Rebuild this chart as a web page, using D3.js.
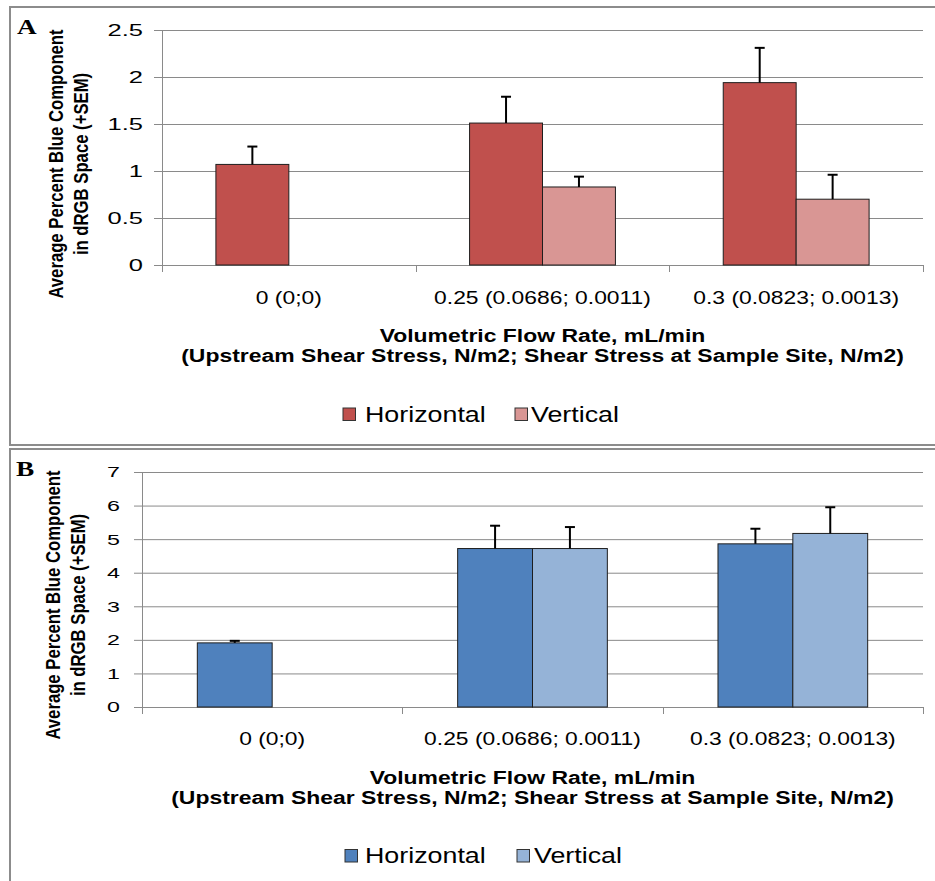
<!DOCTYPE html>
<html>
<head>
<meta charset="utf-8">
<script src="https://cdn.jsdelivr.net/npm/d3@7"></script>
<style>
  body { margin: 0; background: #fff; }
  svg { display: block; }
  text { font-family: "Liberation Sans", Arial, sans-serif; fill: #000; }
</style>
</head>
<body>
<script>
// data
const categories = ['0 (0;0)', '0.25 (0.0686; 0.0011)', '0.3 (0.0823; 0.0013)'];
const seriesNames = ['Horizontal', 'Vertical'];

const aHorizontal = [1.07, 1.51, 1.94];
const aHorizontalSem = [0.19, 0.28, 0.37];
const aVertical = [null, 0.83, 0.70];
const aVerticalSem = [null, 0.11, 0.26];

const bHorizontal = [1.91, 4.72, 4.86];
const bHorizontalSem = [0.06, 0.68, 0.45];
const bVertical = [null, 4.72, 5.17];
const bVerticalSem = [null, 0.64, 0.78];

const aTicks = [0, 0.5, 1, 1.5, 2, 2.5];
const bTicks = [0, 1, 2, 3, 4, 5, 6, 7];

const yTitle = ['Average Percent Blue Component', 'in dRGB Space (+SEM)'];
const xTitle = ['Volumetric Flow Rate, mL/min', '(Upstream Shear Stress, N/m2; Shear Stress at Sample Site, N/m2)'];

const width = 935, height = 881;
const frameColor = '#8c8c8c';
const gridColor = '#8a8a8a';

const svg = d3.select('body').append('svg')
  .attr('width', width)
  .attr('height', height)
  .style('background', '#fff');

// the picture is stretched sideways, so text is too
function stretch(sel, sx) {
  sel.each(function() {
    const t = d3.select(this);
    const x = +t.attr('x') || 0, y = +t.attr('y') || 0;
    t.attr('x', null).attr('y', null)
      .attr('transform', `translate(${x},${y}) scale(${sx},1)`);
  });
}

function drawPanel(p) {
  const g = svg.append('g');

  g.append('rect')
    .attr('x', 10).attr('y', p.frameTop)
    .attr('width', 1000).attr('height', p.frameH)
    .attr('fill', 'none')
    .attr('stroke', frameColor)
    .attr('stroke-width', 2);

  const x0 = d3.scaleBand().domain(categories).range([p.left, p.right]);
  const groupW = x0.bandwidth() * 0.575;
  const x1 = d3.scaleBand().domain(seriesNames).range([0, groupW]);
  const y = d3.scaleLinear().domain([0, p.yMax]).range([p.bottom, p.top]);
  const color = d3.scaleOrdinal().domain(seriesNames).range(p.colors);

  // y axis + gridlines
  const yAxisG = g.append('g')
    .attr('transform', `translate(${p.left},0)`)
    .call(d3.axisLeft(y).tickValues(p.ticks).tickSize(8).tickSizeOuter(0)
      .tickPadding(p.tickPad).tickFormat(d => String(d)));
  yAxisG.select('.domain').remove();
  yAxisG.selectAll('.tick line').attr('stroke', gridColor);
  yAxisG.selectAll('.tick').append('line')
    .attr('x1', 0).attr('x2', p.right - p.left)
    .attr('stroke', gridColor);
  yAxisG.selectAll('.tick text')
    .style('font-size', p.tickFont + 'px')
    .style('font-family', 'Liberation Sans');
  stretch(yAxisG.selectAll('.tick text'), 1.5);

  g.append('line')
    .attr('x1', p.left + 0.5).attr('x2', p.left + 0.5)
    .attr('y1', p.top).attr('y2', p.bottom + 7)
    .attr('stroke', gridColor);

  // x axis
  const xAxisG = g.append('g')
    .attr('transform', `translate(0,${p.bottom})`)
    .call(d3.axisBottom(x0).tickSize(0).tickSizeOuter(0));
  xAxisG.select('.domain').attr('stroke', gridColor);
  xAxisG.selectAll('.tick text')
    .attr('y', p.catBase).attr('dy', 0)
    .style('font-size', '18px')
    .style('font-family', 'Liberation Sans');
  stretch(xAxisG.selectAll('.tick text'), 1.27);

  const bounds = categories.map(c => x0(c)).concat([x0.range()[1]]).slice(1);
  g.selectAll('line.btick').data(bounds).join('line')
    .attr('class', 'btick')
    .attr('x1', d => Math.round(d) + 0.5).attr('x2', d => Math.round(d) + 0.5)
    .attr('y1', p.bottom).attr('y2', p.bottom + 7)
    .attr('stroke', gridColor);

  // bars
  const rows = [];
  seriesNames.forEach((s, si) => {
    p.values[si].forEach((v, ci) => {
      if (v != null) rows.push({series: s, cat: categories[ci], value: v, sem: p.sems[si][ci]});
    });
  });
  const off = (x0.bandwidth() - groupW) / 2;
  const bx = d => x0(d.cat) + off + x1(d.series);

  g.append('g').selectAll('rect').data(rows).join('rect')
    .attr('x', bx)
    .attr('y', d => y(d.value))
    .attr('width', x1.bandwidth())
    .attr('height', d => y(0) - y(d.value))
    .attr('fill', d => color(d.series))
    .attr('stroke', '#1e1e1e')
    .attr('stroke-width', 1);

  // +SEM error bars
  const eb = g.append('g').selectAll('g').data(rows).join('g')
    .attr('stroke', '#000').attr('stroke-width', 2);
  eb.append('line')
    .attr('x1', d => bx(d) + x1.bandwidth() / 2)
    .attr('x2', d => bx(d) + x1.bandwidth() / 2)
    .attr('y1', d => y(d.value))
    .attr('y2', d => y(d.value + d.sem));
  eb.append('line')
    .attr('x1', d => bx(d) + x1.bandwidth() / 2 - 5)
    .attr('x2', d => bx(d) + x1.bandwidth() / 2 + 5)
    .attr('y1', d => y(d.value + d.sem))
    .attr('y2', d => y(d.value + d.sem));

  // panel letter
  g.append('text')
    .attr('x', p.letterX).attr('y', p.letterY)
    .style('font-family', '"Liberation Serif", serif')
    .style('font-weight', 'bold')
    .style('font-size', '21px')
    .text(p.letter)
    .call(s => stretch(s, 1.3));

  // y title, two rotated lines
  yTitle.forEach((t, i) => {
    g.append('text')
      .attr('text-anchor', 'middle')
      .attr('transform', `translate(${p.yTitleX[i]},${p.yTitleY}) scale(1.24,1) rotate(-90)`)
      .style('font-weight', 'bold')
      .style('font-size', '16.7px')
      .text(t);
  });

  // x title
  const cx = (p.left + p.right) / 2;
  xTitle.forEach((t, i) => {
    g.append('text')
      .attr('x', cx).attr('y', p.xTitleY[i])
      .attr('text-anchor', 'middle')
      .style('font-weight', 'bold')
      .style('font-size', '18.5px')
      .text(t)
      .call(s => stretch(s, 1.24));
  });

  // legend
  const lg = g.append('g').selectAll('g').data(seriesNames).join('g');
  lg.append('rect')
    .attr('x', (d, i) => p.legend[i].sw)
    .attr('y', p.legendY - 13.5)
    .attr('width', 12.5).attr('height', 12.5)
    .attr('fill', d => color(d))
    .attr('stroke', '#333');
  lg.append('text')
    .attr('x', (d, i) => p.legend[i].tx)
    .attr('y', p.legendY)
    .style('font-size', '22px')
    .text(d => d)
    .call(s => stretch(s, 1.22));
}

drawPanel({
  letter: 'A', letterX: 17, letterY: 34,
  frameTop: 7, frameH: 438,
  left: 162, right: 923, top: 30, bottom: 265,
  yMax: 2.5, ticks: aTicks, tickPad: 11, tickFont: 17,
  colors: ['#c0504d', '#d99694'],
  values: [aHorizontal, aVertical], sems: [aHorizontalSem, aVerticalSem],
  catBase: 39,
  yTitleX: [63, 88], yTitleY: 164,
  xTitleY: [342, 362],
  legendY: 421.5,
  legend: [{sw: 343, tx: 365}, {sw: 515, tx: 531}]
});

drawPanel({
  letter: 'B', letterX: 16, letterY: 476,
  frameTop: 449, frameH: 600,
  left: 142, right: 923, top: 472, bottom: 707,
  yMax: 7, ticks: bTicks, tickPad: 14, tickFont: 15.5,
  colors: ['#4f81bd', '#95b3d7'],
  values: [bHorizontal, bVertical], sems: [bHorizontalSem, bVerticalSem],
  catBase: 38,
  yTitleX: [60, 85], yTitleY: 605,
  xTitleY: [784, 804],
  legendY: 863,
  legend: [{sw: 345, tx: 365}, {sw: 517, tx: 534}]
});
</script>
</body>
</html>
